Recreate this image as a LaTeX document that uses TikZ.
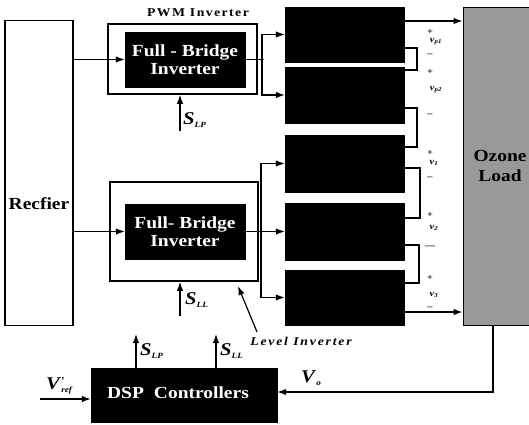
\documentclass[tikz,border=0pt]{standalone}
\usepackage{fontspec}
\setmainfont{Liberation Serif}[FakeStretch=1.15]
\usetikzlibrary{arrows.meta}
\newcommand{\sigl}[2]{\textbf{\textit{#1}}\raisebox{-3bp}{\fontsize{8}{8}\selectfont\textbf{\textit{#2}}}}
\begin{document}
\begin{tikzpicture}[x=1bp,y=-1bp,
  blk/.style={draw=black, fill=black, inner sep=0pt},
  frame/.style={draw=black, line width=1.5bp, inner sep=0pt},
  wire/.style={line width=1.2bp},
  arr/.style={wire, -{Latex[length=9bp,width=6.5bp]}},
  lbl/.style={font=\fontsize{17}{18}\selectfont\bfseries, align=center, inner sep=0pt},
  wlbl/.style={lbl, text=white},
  small/.style={font=\fontsize{12}{12}\selectfont\bfseries\addfontfeature{LetterSpace=12}, inner sep=0pt},
  sig/.style={font=\fontsize{18}{18}\selectfont, inner sep=0pt, anchor=west},
  pm/.style={font=\fontsize{9}{9}\selectfont\bfseries, inner sep=0pt},
  dot/.style={circle, fill=black, inner sep=0pt, minimum size=3.5bp}
]
\useasboundingbox (0,0) rectangle (529,424);
\clip (0,0) rectangle (529,424);

% rectifier
\node[frame, minimum width=68bp, minimum height=305bp] (rect) at (39,173) {};
\node[lbl] (rectl) at (39,204) {Recfier};

% PWM inverter
\node[frame, minimum width=149bp, minimum height=70bp] (pwm) at (182.5,59) {};
\node[blk, minimum width=120bp, minimum height=55bp] (fb1) at (185,59.5) {};
\node[wlbl] (fb1l) at (fb1) {Full - Bridge\\Inverter};
\node[small] (pwml) at (198,13) {PWM Inverter};

% Level inverter
\node[frame, minimum width=148bp, minimum height=99bp] (lev) at (184,231.5) {};
\node[blk, minimum width=120bp, minimum height=55bp] (fb2) at (185,231.5) {};
\node[wlbl] (fb2l) at (fb2) {Full- Bridge\\Inverter};
\node[small, font=\fontsize{12}{12}\selectfont\bfseries\itshape\addfontfeature{LetterSpace=15}] (levl) at (301,341) {Level Inverter};

% transformer blocks
\node[blk, minimum width=119bp, minimum height=55bp] (b1) at (344.5,34.5) {};
\node[blk, minimum width=119bp, minimum height=56bp] (b2) at (344.5,95) {};
\node[blk, minimum width=119bp, minimum height=57bp] (b3) at (344.5,163.5) {};
\node[blk, minimum width=119bp, minimum height=57bp] (b4) at (344.5,231.5) {};
\node[blk, minimum width=119bp, minimum height=55bp] (b5) at (344.5,297.5) {};

% ozone load
\node[draw=black, line width=1bp, fill=black!40, inner sep=0pt, minimum width=80bp, minimum height=318bp] (load) at (503,166) {};
\node[lbl] (loadl) at (500,166) {Ozone\\[2bp]Load};

% DSP
\node[blk, minimum width=186bp, minimum height=54bp] (dsp) at (184,395) {};
\node[wlbl] (dspl) at (178,393) {DSP\hspace{10bp}Controllers};

% rectifier to inverters
\draw[arr] (fb1.west -| rect.east) -- (fb1.west);
\draw[arr] (fb2.west -| rect.east) -- (fb2.west);

% inverter outputs
\coordinate (j1) at (262,59.5);
\coordinate (j2) at (261,231.5);
\draw[wire] (fb1.east) -- (j1);
\draw[wire] (fb2.east) -- (j2);
\node[dot] at (j1) {};
\node[dot] at (j2) {};
\draw[arr] (j1) |- (b1.west);
\draw[arr] (j1) |- (b2.west);
\draw[arr] (j2) |- (b3.west);
\draw[arr] (j2) |- (b4.west);
\draw[arr] (j2) |- (b5.west);

% series connections
\draw[wire] (b1.east |- 0,48) -- (417,48) -- (417,70) -- (b2.east |- 0,70);
\draw[wire] (b2.east |- 0,108) -- (417,108) -- (417,147) -- (b3.east |- 0,147);
\draw[wire] (b3.east |- 0,168) -- (420,168) -- (420,218) -- (b4.east |- 0,218);
\draw[wire] (b4.east |- 0,245) -- (419,245) -- (419,283) -- (b5.east |- 0,283);
\draw[arr] (b1.east |- 0,21) -- (load.west |- 0,21);
\draw[arr] (b5.east |- 0,312) -- (load.west |- 0,312);

% voltage labels
\node[pm] at (430,32) {+};
\node[pm] at (436,42) {\textit{v}\textsubscript{\textit{p1}}};
\node[pm] at (430,55) {--};
\node[pm] at (430,72) {+};
\node[pm] at (436,90) {\textit{v}\textsubscript{\textit{p2}}};
\node[pm] at (430,115) {--};
\node[pm] at (430,153) {+};
\node[pm] at (434,163) {\textit{v}\textsubscript{\textit{1}}};
\node[pm] at (430,178) {--};
\node[pm] at (430,215) {+};
\node[pm] at (434,228) {\textit{v}\textsubscript{\textit{2}}};
\node[pm] at (430,247) {---};
\node[pm] at (430,278) {+};
\node[pm] at (434,295) {\textit{v}\textsubscript{\textit{3}}};
\node[pm] at (430,308) {--};

% switching signals to inverters
\coordinate (s1) at (180,131);
\coordinate (s2) at (180,316);
\draw[arr] (s1) -- (pwm.south -| s1);
\draw[arr] (s2) -- (lev.south -| s2);
\node[sig] at (183,120) {\sigl{S}{LP}};
\node[sig] at (185,300) {\sigl{S}{LL}};

% level inverter pointer
\coordinate (lp) at (238,286);
\coordinate (lq) at (257,332);
\draw[arr] (lq) -- (lp);

% DSP outputs
\coordinate (d1) at (136,334);
\coordinate (d2) at (216,334);
\draw[arr] (dsp.north -| d1) -- (d1);
\draw[arr] (dsp.north -| d2) -- (d2);
\node[sig] at (140,351) {\sigl{S}{LP}};
\node[sig] at (220,351) {\sigl{S}{LL}};

% reference input
\coordinate (vr) at (40,399);
\draw[arr] (vr) -- (dsp.west |- vr);
\node[sig] at (46,386) {\textbf{\textit{V}}\raisebox{-3bp}{\fontsize{8}{8}\selectfont\textbf{\textit{ref}}}\hspace{-12bp}\raisebox{6bp}{\fontsize{9}{9}\selectfont\textbf{\textit{'}}}};

% feedback
\coordinate (fb) at (493,392);
\draw[arr] (load.south -| fb) -- (fb) -- (dsp.east |- fb);
\node[sig] at (301,378) {\textbf{\textit{V}}\raisebox{-3bp}{\fontsize{8}{8}\selectfont\textbf{\textit{o}}}};
\end{tikzpicture}
\end{document}
